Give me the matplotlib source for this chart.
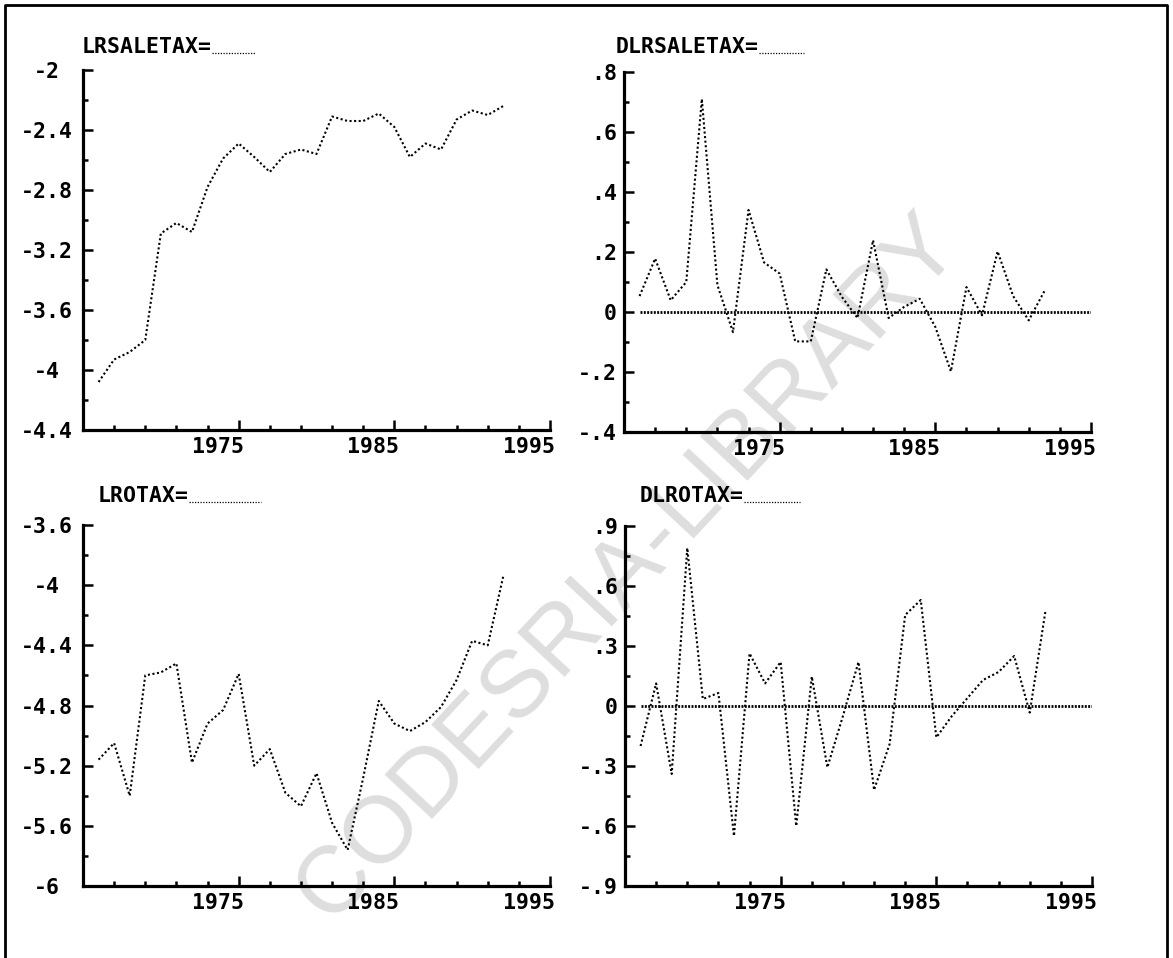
import matplotlib
matplotlib.use('Agg')
import matplotlib.pyplot as plt
from matplotlib.lines import Line2D
from matplotlib.ticker import MultipleLocator
from matplotlib.transforms import ScaledTranslation, IdentityTransform

# data, annual 1966-1992
years = list(range(1966, 1993))

lrsaletax = [-4.08, -3.93, -3.88, -3.80, -3.09, -3.02, -3.08, -2.78, -2.59, -2.49,
             -2.58, -2.68, -2.56, -2.53, -2.56, -2.31, -2.34, -2.34, -2.29, -2.38,
             -2.58, -2.49, -2.53, -2.33, -2.27, -2.30, -2.24]

dlrsaletax = [0.053, 0.178, 0.039, 0.10, 0.71, 0.09, -0.067, 0.34, 0.165, 0.128,
              -0.098, -0.098, 0.142, 0.05, -0.02, 0.239, -0.02, 0.017, 0.044, -0.05,
              -0.198, 0.083, -0.011, 0.202, 0.053, -0.028, 0.069]

lrotax = [-5.16, -5.05, -5.40, -4.60, -4.58, -4.52, -5.18, -4.92, -4.83, -4.59,
          -5.20, -5.09, -5.38, -5.47, -5.25, -5.58, -5.76, -5.28, -4.77, -4.92,
          -4.97, -4.91, -4.81, -4.63, -4.37, -4.40, -3.94]

dlrotax = [-0.20, 0.113, -0.34, 0.79, 0.035, 0.065, -0.65, 0.263, 0.113, 0.22,
           -0.60, 0.147, -0.307, -0.05, 0.22, -0.42, -0.19, 0.455, 0.53, -0.157,
           -0.05, 0.04, 0.13, 0.17, 0.25, -0.033, 0.47]

zero_span = [1966, 1995]

xticks = [1975, 1985, 1995]
xticklabels = ['1975', '1985', '1995']
xminor = [1967, 1969, 1971, 1973, 1977, 1979, 1981, 1983, 1987, 1989, 1991, 1993]

yt_lrsaletax = [-2, -2.4, -2.8, -3.2, -3.6, -4, -4.4]
yl_lrsaletax = ['-2', '-2.4', '-2.8', '-3.2', '-3.6', '-4', '-4.4']
yt_dlrsaletax = [0.8, 0.6, 0.4, 0.2, 0, -0.2, -0.4]
yl_dlrsaletax = ['.8', '.6', '.4', '.2', '0', '-.2', '-.4']
yt_lrotax = [-3.6, -4, -4.4, -4.8, -5.2, -5.6, -6]
yl_lrotax = ['-3.6', '-4', '-4.4', '-4.8', '-5.2', '-5.6', '-6']
yt_dlrotax = [0.9, 0.6, 0.3, 0, -0.3, -0.6, -0.9]
yl_dlrotax = ['.9', '.6', '.3', '0', '-.3', '-.6', '-.9']

plt.rcParams['font.family'] = ['DejaVu Sans Mono']
plt.rcParams['font.weight'] = 'bold'
plt.rcParams['font.size'] = 15.5

W, H = 1173, 958
fig = plt.figure(figsize=(W / 100, H / 100), dpi=100)

def rect(x0, x1, ytop, ybot):
    return [x0 / W, 1 - ybot / H, (x1 - x0) / W, (ybot - ytop) / H]

# name, values, yticks, labels, minor step, axes rect, centred labels, zero line, title pos, legend len
panels = [
    ('LRSALETAX=', lrsaletax, yt_lrsaletax, yl_lrsaletax, 0.2,
     rect(83, 550, 70, 430), True, False, (82, 47), 44),
    ('DLRSALETAX=', dlrsaletax, yt_dlrsaletax, yl_dlrsaletax, 0.1,
     rect(624, 1091, 72, 432), False, True, (616, 47), 45),
    ('LROTAX=', lrotax, yt_lrotax, yl_lrotax, 0.2,
     rect(83, 550, 525, 886), True, False, (98, 496), 72),
    ('DLROTAX=', dlrotax, yt_dlrotax, yl_dlrotax, 0.15,
     rect(625, 1092, 526, 886), False, True, (640, 496), 56),
]

dotted = (0, (1, 1.2))
titles = []
for name, vals, yt, yl, mstep, r, centred, zero, tpos, leglen in panels:
    ax = fig.add_axes(r)
    ax.set_facecolor('none')
    ax.plot(years, vals, color='black', lw=1.5, linestyle=dotted)
    if zero:
        ax.plot(zero_span, [0, 0], color='black', lw=2.0, linestyle=(0, (0.7, 0.5)))
    ax.set_xlim(1965, 1995)
    ax.set_ylim(min(yt), max(yt))
    for s in ['top', 'right']:
        ax.spines[s].set_visible(False)
    for s in ['left', 'bottom']:
        ax.spines[s].set_linewidth(2.3)
    ax.set_xticks(xticks)
    ax.set_xticks(xminor, minor=True)
    ax.set_yticks(yt)
    ax.yaxis.set_minor_locator(MultipleLocator(mstep))
    ax.tick_params(which='both', direction='in', width=1.8, color='black')
    ax.tick_params(axis='x', which='major', length=7, pad=5)
    ax.tick_params(axis='x', which='minor', length=3.5)
    ax.tick_params(axis='y', which='major', length=7.5)
    ax.tick_params(axis='y', which='minor', length=3.5)
    if centred:
        ax.tick_params(axis='y', pad=26)
        ax.set_yticklabels(yl, ha='center')
    else:
        ax.tick_params(axis='y', pad=5)
        ax.set_yticklabels(yl)
    ax.set_xticklabels(xticklabels, ha='right')
    shift = ScaledTranslation(5 / 100, 0, fig.dpi_scale_trans)
    for lbl in ax.get_xticklabels():
        lbl.set_transform(lbl.get_transform() + shift)
    t = fig.text(tpos[0] / W, 1 - tpos[1] / H, name, ha='left', va='center')
    titles.append((t, leglen))

# little dotted legend sample after each "NAME="
fig.canvas.draw()
renderer = fig.canvas.get_renderer()
for t, leglen in titles:
    bb = t.get_window_extent(renderer)
    yb = bb.y0 + 4
    fig.add_artist(Line2D([bb.x1, bb.x1 + leglen], [yb, yb], transform=IdentityTransform(),
                          color='black', lw=0.9, linestyle=(0, (1, 1.2))))

# page frame
fig.add_artist(Line2D([5 / W, 5 / W, 1167 / W, 1167 / W], [0, 1 - 5 / H, 1 - 5 / H, 0],
                      transform=fig.transFigure, color='black', lw=2.0))

# watermark
fig.text(628 / W, 1 - 568 / H, 'CODESRIA-LIBRARY', rotation=47, color='#dedede',
         fontsize=68, family='Liberation Sans', fontweight='normal',
         ha='center', va='center', zorder=-1)

fig.savefig('out.png', dpi=100)
